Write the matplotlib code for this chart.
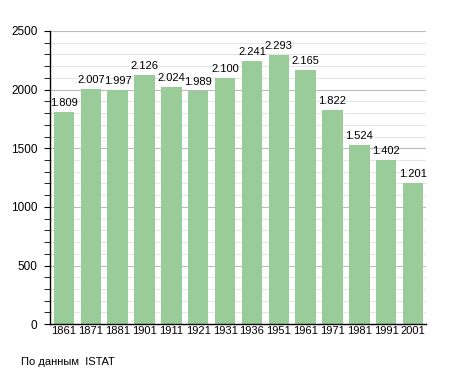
import matplotlib
matplotlib.use("Agg")
import matplotlib.pyplot as plt
from matplotlib.ticker import MultipleLocator

years = ["1861", "1871", "1881", "1901", "1911", "1921", "1931",
         "1936", "1951", "1961", "1971", "1981", "1991", "2001"]
population = [1809, 2007, 1997, 2126, 2024, 1989, 2100,
              2241, 2293, 2165, 1822, 1524, 1402, 1201]
value_labels = ["1.809", "2.007", "1.997", "2.126", "2.024", "1.989", "2.100",
                "2.241", "2.293", "2.165", "1.822", "1.524", "1.402", "1.201"]


def main() -> None:
    plt.rcParams["font.family"] = ["Liberation Sans", "DejaVu Sans"]
    fig = plt.figure(figsize=(4.55, 3.73), dpi=100, facecolor="white")
    ax = fig.add_axes([0.110, 0.131, 0.826, 0.786])

    x = range(len(years))
    ax.bar(x, population, width=0.76, color="#99cc99", zorder=2)
    for xi, val, lab in zip(x, population, value_labels):
        ax.text(xi, val + 35, lab, ha="center", va="bottom", fontsize=8, zorder=3)

    ax.set_xlim(-0.52, len(years) - 0.52)
    ax.set_ylim(0, 2500)
    ax.yaxis.set_major_locator(MultipleLocator(500))
    ax.yaxis.set_minor_locator(MultipleLocator(100))
    ax.grid(axis="y", which="major", color="#bbbbbb", linewidth=0.8, zorder=0)
    ax.grid(axis="y", which="minor", color="#e6e6e6", linewidth=0.8, zorder=0)

    ax.set_xticks(list(x))
    ax.set_xticklabels(years, fontsize=8)
    ax.tick_params(axis="x", length=0, pad=1)
    ax.tick_params(axis="y", which="major", length=4, labelsize=8.5, pad=5)
    ax.tick_params(axis="y", which="minor", length=4)

    for side in ("top", "right"):
        ax.spines[side].set_visible(False)
    ax.spines["left"].set_linewidth(1.0)
    ax.spines["bottom"].set_linewidth(1.0)

    fig.text(0.046, 0.015, "По данным  ISTAT", fontsize=8, ha="left", va="bottom")

    fig.savefig("out.png", dpi=100)
    plt.close(fig)


if __name__ == "__main__":
    main()
